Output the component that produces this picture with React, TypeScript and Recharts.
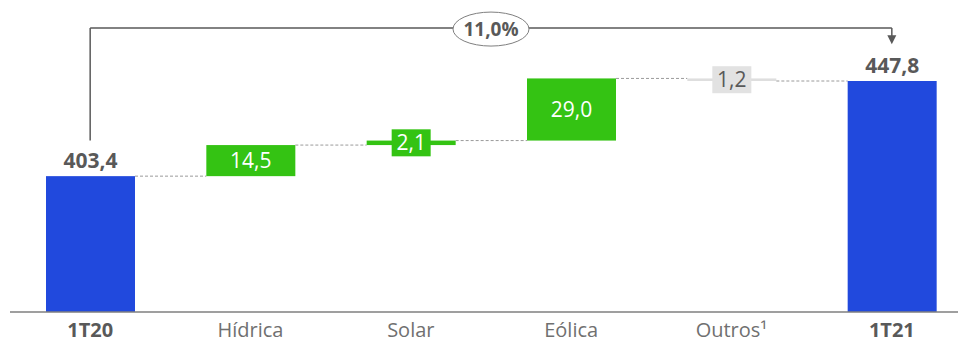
import React from "react";
import { ComposedChart, Bar, XAxis, YAxis, ReferenceLine } from "recharts";

// waterfall: 1T20 -> 1T21
const categories = ["1T20", "Hídrica", "Solar", "Eólica", "Outros¹", "1T21"];
const amounts = [403.4, 14.5, 2.1, 29.0, -1.2, 447.8];
const kinds = ["total", "delta", "delta", "delta", "delta", "total"];
const valueLabels = ["403,4", "14,5", "2,1", "29,0", "1,2", "447,8"];
const growthLabel = "11,0%";

const Y_MIN = 340;
const Y_MAX = 480;
const BRACKET_LEVEL = 472.5;
const BRACKET_LEFT_END = 420;
const BRACKET_ARROW_END = 465;

const CHART_W = 972;
const CHART_H = 342;
const MARGIN = { top: 12, right: 0, left: 10, bottom: 0 };
const BAND = (CHART_W - MARGIN.left - MARGIN.right) / categories.length;

const BLUE = "#2149dd";
const GREEN = "#34c313";
const GREY_BAR = "#dedede";
const GREY_BOX = "#e2e2e2";
const TEXT = "#595959";
const FONT = "'Open Sans', sans-serif";

let running = 0;
const data = categories.map((name, i) => {
  const kind = kinds[i];
  const amount = amounts[i];
  let lo = 0;
  let hi = 0;
  if (kind === "total") {
    lo = Y_MIN;
    hi = amount;
    running = amount;
  } else {
    const end = running + amount;
    lo = Math.min(running, end);
    hi = Math.max(running, end);
    running = end;
  }
  return {
    name,
    kind,
    amount,
    range: [lo, hi],
    label: valueLabels[i],
    linkAtTop: kind === "total" || amount < 0,
  };
});

const WaterfallShape = (props: any) => {
  const { x, y, width, height, payload } = props;
  const idx = categories.indexOf(payload.name);
  const top = Math.min(y, y + height);
  const h = Math.abs(height);
  const bottom = top + h;
  const cx = x + width / 2;
  const cy = top + h / 2;
  const isTotal = payload.kind === "total";
  const negative = payload.amount < 0;
  const fill = isTotal ? BLUE : negative ? GREY_BAR : GREEN;
  const linkY = payload.linkAtTop ? top : bottom;
  const gap = BAND - width;

  let label = null;
  if (isTotal) {
    label = (
      <text x={cx} y={top - 8} textAnchor="middle" fontSize={21} fontWeight={700} fill={TEXT} fontFamily={FONT}>
        {payload.label}
      </text>
    );
  } else if (h >= 27) {
    label = (
      <text x={cx} y={cy + 7.5} textAnchor="middle" fontSize={21} fill="#ffffff" fontFamily={FONT}>
        {payload.label}
      </text>
    );
  } else {
    label = (
      <g>
        <rect x={cx - 19.5} y={cy - 13.5} width={39} height={27} fill={negative ? GREY_BOX : GREEN} />
        <text x={cx} y={cy + 7.5} textAnchor="middle" fontSize={21} fill={negative ? TEXT : "#ffffff"} fontFamily={FONT}>
          {payload.label}
        </text>
      </g>
    );
  }

  return (
    <g>
      {idx > 0 && (
        <line x1={x - gap} x2={x} y1={linkY} y2={linkY} stroke="#9a9a9a" strokeWidth={1} strokeDasharray="3 2" />
      )}
      <rect x={x} y={top} width={width} height={Math.max(h, 1)} fill={fill} />
      {label}
    </g>
  );
};

const CategoryTick = (props: any) => {
  const { x, y, payload } = props;
  const isTotal = kinds[categories.indexOf(payload.value)] === "total";
  return (
    <text
      x={x}
      y={y + 25}
      textAnchor="middle"
      fontSize={20}
      fontWeight={isTotal ? 700 : 400}
      fill={isTotal ? TEXT : "#707070"}
      fontFamily={FONT}
    >
      {payload.value}
    </text>
  );
};

const GrowthBadge = (props: any) => {
  const vb = props.viewBox || {};
  const cx = vb.x + (vb.width || 0) / 2;
  const cy = vb.y + (vb.height || 0) / 2 + 1;
  return (
    <g>
      <ellipse cx={cx} cy={cy} rx={38} ry={17} fill="#ffffff" stroke="#7f7f7f" strokeWidth={1} />
      <text x={cx} y={cy + 6.5} textAnchor="middle" fontSize={19} fontWeight={700} fill={TEXT} fontFamily={FONT}>
        {growthLabel}
      </text>
    </g>
  );
};

const ArrowLine = (props: any) => {
  const { x1, y1, x2, y2 } = props;
  return (
    <g>
      <line x1={x1} y1={y1} x2={x2} y2={y2 - 8} stroke={TEXT} strokeWidth={1.5} />
      <polygon points={`${x2 - 4.5},${y2 - 9} ${x2 + 4.5},${y2 - 9} ${x2},${y2}`} fill={TEXT} />
    </g>
  );
};

export default function App() {
  return (
    <div style={{ position: "absolute", left: 0, top: 0, width: 958, height: 342, overflow: "hidden", background: "#fff" }}>
      <ComposedChart width={CHART_W} height={CHART_H} data={data} margin={MARGIN}>
        <XAxis
          dataKey="name"
          height={30}
          interval={0}
          tickLine={false}
          tickSize={0}
          tickMargin={0}
          axisLine={{ stroke: "#7f7f7f", strokeWidth: 1.5 }}
          tick={<CategoryTick />}
        />
        <YAxis hide domain={[Y_MIN, Y_MAX]} allowDataOverflow />
        <Bar dataKey="range" barSize={89} shape={<WaterfallShape />} isAnimationActive={false} />
        <ReferenceLine
          segment={[
            { x: categories[0], y: BRACKET_LEVEL },
            { x: categories[categories.length - 1], y: BRACKET_LEVEL },
          ]}
          stroke={TEXT}
          strokeWidth={1.5}
          label={(p: any) => <GrowthBadge {...p} />}
        />
        <ReferenceLine
          segment={[
            { x: categories[0], y: BRACKET_LEVEL },
            { x: categories[0], y: BRACKET_LEFT_END },
          ]}
          stroke={TEXT}
          strokeWidth={1.5}
        />
        <ReferenceLine
          segment={[
            { x: categories[categories.length - 1], y: BRACKET_LEVEL },
            { x: categories[categories.length - 1], y: BRACKET_ARROW_END },
          ]}
          shape={(p: any) => <ArrowLine {...p} />}
        />
      </ComposedChart>
    </div>
  );
}
